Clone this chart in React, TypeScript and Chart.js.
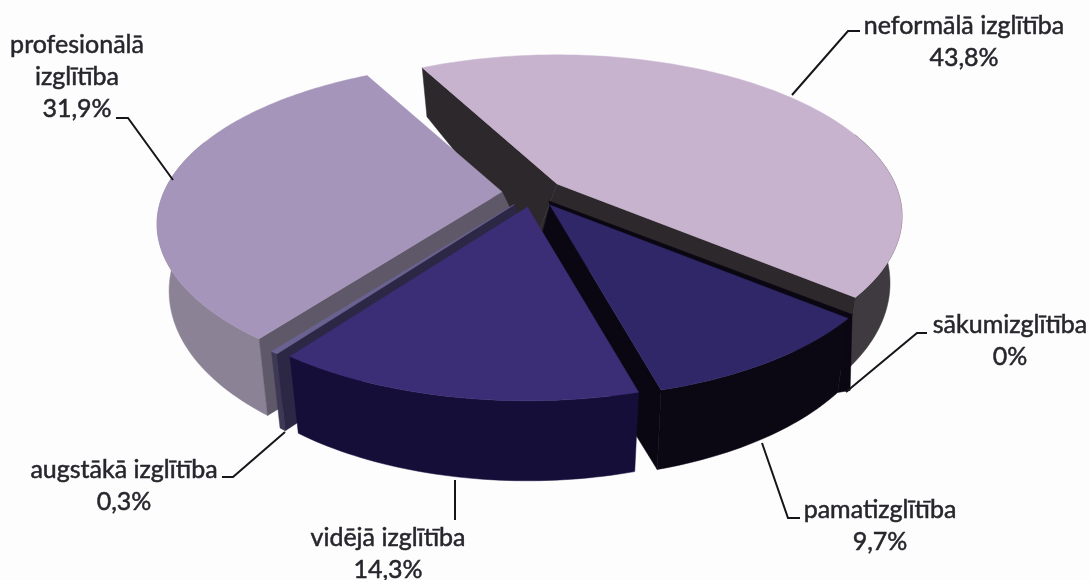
import React, { useEffect, useRef } from "react";
import { Chart, registerables } from "chart.js";

Chart.register(...registerables);

const categories = ["neformālā izglītība", "sākumizglītība", "pamatizglītība", "vidējā izglītība", "augstākā izglītība", "profesionālā izglītība"];
const values = [43.8, 0, 9.7, 14.3, 0.3, 31.9];
const topColors = ["#c8b3ce", "#c8b3ce", "#2f2768", "#3c2e76", "#6a6392", "#a695ba"];
const rimColors = ["#3f3a3f", "#3f3a3f", "#0b0814", "#150e38", "#3d3853", "#8c8295"];
const wallColors = ["#2c282b", "#2c282b", "#0a0712", "#0a0712", "#2c2745", "#5f5869"];
const lipSizes = [0, 0, 4, 0, 0, 0];
const drawOrder = [0, 5, 4, 2, 3];

// perspective model of the tilted disc
const CX = 533, CY = 193, RX = 338, RY = 155, K = 0.2, DEPTH = 63.6, DEPTH_TILT = 16.4, BASE_SCALE = 0.965, EXPLODE = 0.092;
const HIDDEN_RIM_Q = -0.35;

type LabelSpec = { lines: string[]; x: number; y: number; leader: number[][] };
const labelSpecs: LabelSpec[] = [
  { lines: ["neformālā izglītība", "43,8%"], x: 964, y: 26, leader: [[792, 95], [848, 31], [860, 31]] },
  { lines: ["sākumizglītība", "0%"], x: 1010, y: 325, leader: [[846, 392], [917, 333], [927, 333]] },
  { lines: ["pamatizglītība", "9,7%"], x: 880, y: 510, leader: [[762, 443], [788, 518], [800, 518]] },
  { lines: ["vidējā izglītība", "14,3%"], x: 388, y: 538, leader: [[455, 480], [455, 520]] },
  { lines: ["augstākā izglītība", "0,3%"], x: 124, y: 470, leader: [[285, 432], [233, 477], [222, 477]] },
  { lines: ["profesionālā", "izglītība", "31,9%"], x: 77, y: 45, leader: [[173, 180], [128, 118], [116, 118]] },
];

const project = (a: number, ax: number, ay: number) => {
  const p = Math.cos(a), q = Math.sin(a), den = 1 - K * q;
  const dx = (RX * p) / den, dy = (RY * q) / den;
  const d = DEPTH + DEPTH_TILT * q;
  return { x: ax + dx, y: ay + dy, bx: ax + dx * BASE_SCALE, by: ay + dy + d, q };
};

const poly = (ctx: CanvasRenderingContext2D, pts: number[][], color: string) => {
  ctx.beginPath();
  pts.forEach(([x, y], i) => (i ? ctx.lineTo(x, y) : ctx.moveTo(x, y)));
  ctx.closePath();
  ctx.fillStyle = color;
  ctx.strokeStyle = color;
  ctx.lineWidth = 0.5;
  ctx.fill();
  ctx.stroke();
};

const pie3d = {
  id: "pie3d",
  beforeDatasetDraw(chart: any) {
    const ctx: CanvasRenderingContext2D = chart.ctx;
    const arcs = chart.getDatasetMeta(0).data;
    ctx.save();
    for (const i of drawOrder) {
      const { startAngle, endAngle } = arcs[i];
      const mid = (startAngle + endAngle) / 2;
      const ax = CX + EXPLODE * RX * Math.cos(mid);
      const ay = CY + EXPLODE * RY * Math.sin(mid);
      const n = Math.max(2, Math.ceil((endAngle - startAngle) / 0.02));
      const rim = [];
      for (let j = 0; j <= n; j++) rim.push(project(startAngle + ((endAngle - startAngle) * j) / n, ax, ay));
      const front = rim.filter((r) => r.q > HIDDEN_RIM_Q);
      const band = [...front.map((r) => [r.x, r.y]), ...front.slice().reverse().map((r) => [r.bx, r.by])];
      poly(ctx, band, rimColors[i]);
      const mp = project(mid, ax, ay);
      for (const r of [rim[0], rim[n]]) {
        const ex = r.x - ax, ey = r.y - ay;
        const sideMid = ex * (mp.y - ay) - ey * (mp.x - ax);
        if (sideMid * ex < 0) {
          poly(ctx, [[ax, ay], [r.x, r.y], [r.bx, r.by], [CX, ay + DEPTH]], wallColors[i]);
        }
      }
      const lip = lipSizes[i];
      if (lip) {
        const r = rim[0];
        poly(ctx, [[ax, ay], [r.x, r.y], [r.x + lip, r.y - lip], [ax - 1, ay - lip]], wallColors[i]);
        poly(ctx, [[r.x + lip, r.y - lip], [r.x + lip - 2, r.by - 2], [r.bx, r.by], [r.x, r.y]], wallColors[i]);
      }
      poly(ctx, [[ax, ay], ...rim.map((r) => [r.x, r.y])], topColors[i]);
    }
    ctx.restore();
    return false;
  },
  afterDatasetsDraw(chart: any) {
    const ctx: CanvasRenderingContext2D = chart.ctx;
    ctx.save();
    ctx.font = '25px Lato, "Open Sans", sans-serif';
    ctx.textAlign = "center";
    ctx.textBaseline = "middle";
    for (const s of labelSpecs) {
      ctx.strokeStyle = "#15151a";
      ctx.lineWidth = 2;
      ctx.beginPath();
      s.leader.forEach(([x, y], i) => (i ? ctx.lineTo(x, y) : ctx.moveTo(x, y)));
      ctx.stroke();
      ctx.fillStyle = "#26262c";
      ctx.strokeStyle = "#26262c";
      ctx.lineWidth = 0.5;
      s.lines.forEach((l, i) => {
        ctx.fillText(l, s.x, s.y + i * 32);
        ctx.strokeText(l, s.x, s.y + i * 32);
      });
    }
    ctx.restore();
  },
};

const background = {
  id: "paper",
  beforeDraw(chart: any) {
    chart.ctx.fillStyle = "#fdfdfe";
    chart.ctx.fillRect(0, 0, chart.width, chart.height);
  },
};

export default function App() {
  const ref = useRef<HTMLCanvasElement>(null);
  useEffect(() => {
    const chart = new Chart(ref.current!, {
      type: "pie",
      data: { labels: categories, datasets: [{ data: values, backgroundColor: topColors, borderWidth: 0 }] },
      options: {
        responsive: false,
        animation: false,
        rotation: -28,
        plugins: { legend: { display: false }, tooltip: { enabled: false } },
      },
      plugins: [background, pie3d],
    } as any);
    return () => chart.destroy();
  }, []);
  return (
    <div style={{ position: "fixed", left: 0, top: 0 }}>
      <canvas ref={ref} width={1090} height={580} style={{ display: "block" }} />
    </div>
  );
}
